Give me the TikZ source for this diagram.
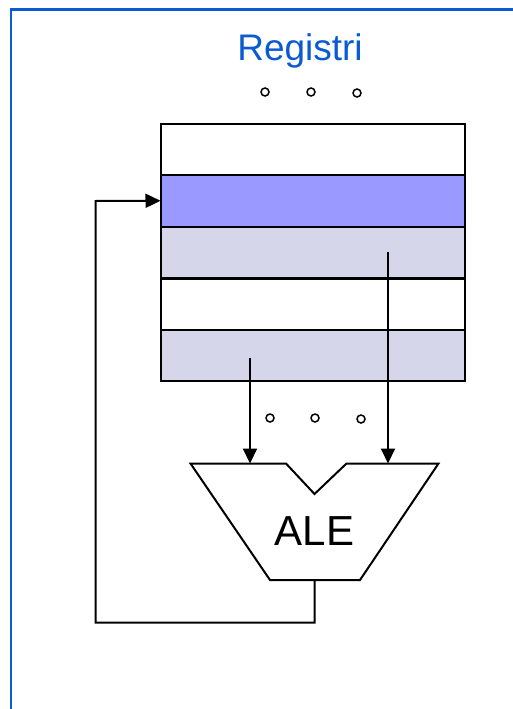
\documentclass[tikz,border=0pt]{standalone}
\usepackage{fontspec}
\setmainfont{Liberation Sans}
\usetikzlibrary{arrows.meta}
\definecolor{frameblue}{HTML}{0A5AD2}
\definecolor{regblue}{HTML}{9999FF}
\definecolor{reglav}{HTML}{D6D6EB}
\tikzset{
  reg/.style={draw=black, line width=2pt, minimum width=304pt, minimum height=51.5pt, inner sep=0pt, outer sep=0pt, anchor=north west},
  wire/.style={draw=black, line width=2pt},
  arr/.style={wire, -{Triangle[length=15pt,width=14pt]}},
  dot/.style={draw=black, line width=1.5pt, fill=white},
}
\begin{document}
\begin{tikzpicture}[x=1pt,y=-1pt]
\useasboundingbox (0,0) rectangle (512,709);
% frame
\draw[frameblue, line width=2.4pt] (11,712) -- (11,9.5) -- (515,9.5);
% title
\node[text=frameblue, font=\fontsize{37}{40}\selectfont] (title) at (300,51) {Registri};
% top dots
\foreach \x/\y in {265/92, 311/92, 357/93}
  \draw[dot] (\x,\y) circle (4pt);
% registers (fills first, borders afterwards)
\node[reg, fill=white]   (r1) at (160.5,123.5) {};
\node[reg, fill=regblue] (r2) at (160.5,175) {};
\node[reg, fill=reglav]  (r3) at (160.5,227) {};
\node[reg, fill=white]   (r4) at (161,278) {};
\node[reg, fill=reglav]  (r5) at (161,329.5) {};
\foreach \r in {r1,r2,r3,r4,r5}
  \draw[black, line width=2pt] (\r.north west) rectangle (\r.south east);
% middle dots
\foreach \x/\y in {270/418, 315/418, 361/419}
  \draw[dot] (\x,\y) circle (4pt);
% ALU
\coordinate (tl) at (190.5,463.5);
\coordinate (nl) at (286,463.5);
\coordinate (nb) at (314.5,494);
\coordinate (nr) at (346.5,463.5);
\coordinate (tr) at (438.5,463.5);
\coordinate (br) at (360,580);
\coordinate (bl) at (270,580);
\draw[wire, line join=miter] (tl) -- (nl) -- (nb) -- (nr) -- (tr) -- (br) -- (bl) -- cycle;
\node[font=\fontsize{42}{46}\selectfont] (alu) at (314.5,531) {ALE};
\coordinate (inA) at (250,463.5);
\coordinate (inB) at (388,463.5);
\coordinate (out) at (314.5,580);
% operand wires
\coordinate (srcA) at (250,358);
\coordinate (srcB) at (388,251.5);
\draw[arr] (srcA) -- (inA);
\draw[arr] (srcB) -- (inB);
% feedback
\coordinate (fb1) at (314.5,622.5);
\coordinate (fb2) at (95.5,622.5);
\coordinate (fb3) at (95.5,201);
\draw[arr] (out) -- (fb1) -- (fb2) -- (fb3) -- (r2.west);
\end{tikzpicture}
\end{document}
